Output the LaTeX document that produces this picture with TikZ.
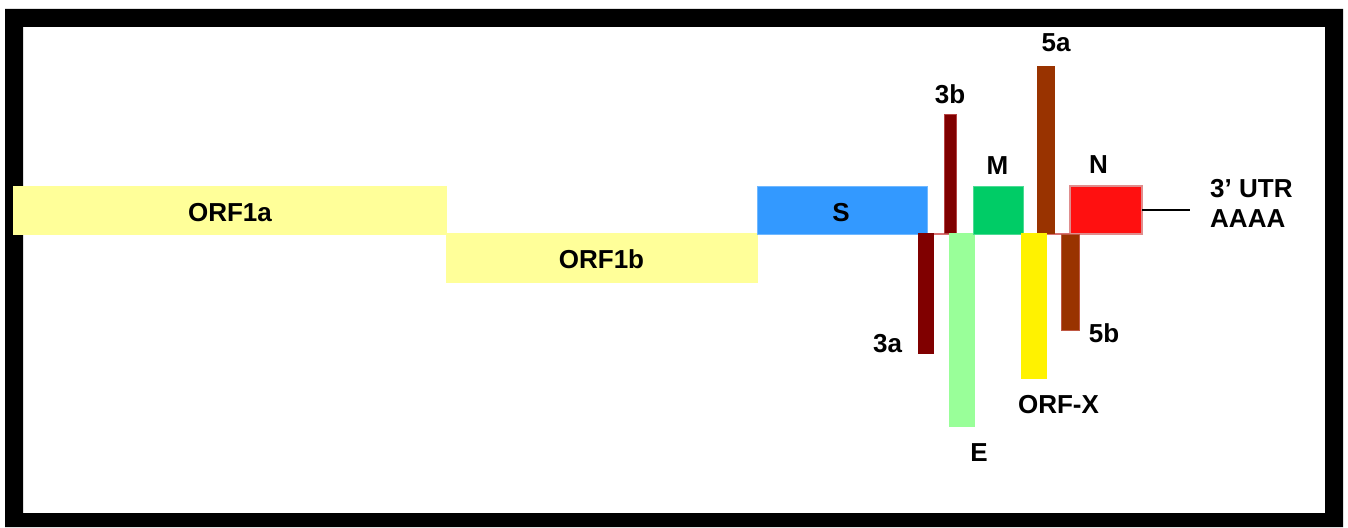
\documentclass[tikz,border=0pt]{standalone}
\usepackage{fontspec}
\setmainfont{Liberation Sans}
\begin{document}
\begin{tikzpicture}[x=1pt,y=-1pt,
  gene/.style={rectangle, inner sep=0pt, outer sep=0pt, line width=1pt},
  lbl/.style={inner sep=0pt, anchor=base, font=\fontsize{26}{31}\selectfont\bfseries}]
\definecolor{orfone}{HTML}{FFFF99}
\definecolor{spike}{HTML}{3399FF}
\definecolor{maroon}{HTML}{800000}
\definecolor{rust}{HTML}{993300}
\definecolor{envgreen}{HTML}{99FF99}
\definecolor{memgreen}{HTML}{00CC66}
\definecolor{nred}{HTML}{FF1010}
\definecolor{pinkline}{HTML}{D87070}
\useasboundingbox (0,0) rectangle (1348,527);
% outer frame
\fill[black, even odd rule] (5,9) rectangle (1343,527) (23,27) rectangle (1325,513);

% replicase genes
\node[gene, fill=orfone, minimum width=434pt, minimum height=49pt] (orf1a) at (230,210.5) {};
\node[gene, fill=orfone, minimum width=312pt, minimum height=50pt] (orf1b) at (602,258) {};

% structural / accessory genes
\node[gene, fill=spike, draw=spike!70!white, minimum width=170pt, minimum height=48pt] (S) at (842,210) {};
\node[gene, fill=nred, draw=pinkline!80!white, line width=2pt, minimum width=72pt, minimum height=48pt] (N) at (1106,210) {};
\draw[pinkline, line width=2pt] (S.south east) -- (N.south west);
\node[gene, fill=maroon, draw=pinkline!60!maroon, minimum width=12pt, minimum height=119pt] (g3b) at (950,173.5) {};
\node[gene, fill=maroon, minimum width=16pt, minimum height=121pt] (g3a) at (926,293.5) {};
\node[gene, fill=envgreen, minimum width=26pt, minimum height=194pt] (E) at (962,330) {};
\node[gene, fill=memgreen, draw=memgreen!70!white, minimum width=50pt, minimum height=48pt] (M) at (998,210) {};
\node[gene, fill=rust, minimum width=18pt, minimum height=168pt] (g5a) at (1046,150) {};
\node[gene, fill=yellow, minimum width=26pt, minimum height=146pt] (orfx) at (1034,306) {};
\node[gene, fill=rust, draw=pinkline!60!rust, minimum width=18pt, minimum height=96pt] (g5b) at (1070,282) {};

% 3' end
\coordinate (utr) at (1190,210);
\draw[line width=2pt] (N.east) -- (utr);

% labels
\node[lbl] (t1a) at (230,221) {ORF1a};
\node[lbl] (t1b) at (601.5,268) {ORF1b};
\node[lbl] (tS) at (841,221.5) {S};
\node[lbl] (t3b) at (950,103) {3b};
\node[lbl] (tM) at (997.5,174) {M};
\node[lbl] (t5a) at (1056,52) {5a};
\node[lbl] (tN) at (1098.5,173) {N};
\node[lbl, anchor=base west] (tutr) at (1210,197) {3’ UTR};
\node[lbl, anchor=base west] (taaaa) at (1210,227.5) {AAAA};
\node[lbl] (t3a) at (887.5,352) {3a};
\node[lbl] (t5b) at (1104,342) {5b};
\node[lbl] (tx) at (1058.5,413) {ORF-X};
\node[lbl] (tE) at (979,461) {E};
\end{tikzpicture}
\end{document}
